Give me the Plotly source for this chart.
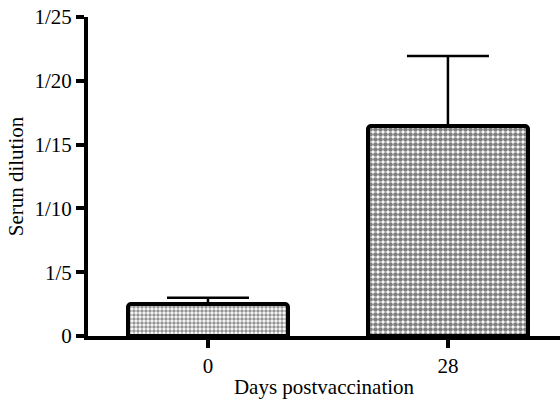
import plotly.graph_objects as go

categories = ["0", "28"]
means = [2.5, 16.45]
errors_up = [0.5, 5.5]
ytick_vals = [0, 5, 10, 15, 20, 25]
ytick_text = ["0", "1/5", "1/10", "1/15", "1/20", "1/25"]
pattern_fg = ["#2a2a2a", "#000000"]

xpos = list(range(len(categories)))

fig = go.Figure()
fig.add_trace(go.Bar(
    x=xpos, y=means, width=0.667,
    marker=dict(
        color="white",
        line=dict(color="black", width=4),
        pattern=dict(shape=".", fgcolor=pattern_fg, bgcolor="white", size=[4, 5], solidity=[0.6, 0.68]),
        cornerradius=3,
    ),
    error_y=dict(type="data", symmetric=False, array=errors_up, arrayminus=[0, 0],
                 color="black", thickness=2.5, width=41),
))

font = dict(family="Liberation Serif, Times New Roman, serif", size=21, color="black")
fig.update_layout(
    width=560, height=399,
    margin=dict(l=88, r=0, t=17, b=63),
    plot_bgcolor="white", paper_bgcolor="white",
    font=font, showlegend=False, bargap=0,
)
fig.update_xaxes(
    range=[-0.5, 1.467], tickvals=xpos, ticktext=categories,
    showline=True, linecolor="black", linewidth=4,
    ticks="outside", ticklen=8, tickwidth=4, tickcolor="black",
    showgrid=False, zeroline=False,
    title=dict(text="Days postvaccination", standoff=7, font=font),
)
fig.update_yaxes(
    range=[0, 25], tickvals=ytick_vals, ticktext=ytick_text,
    showline=True, linecolor="black", linewidth=4,
    ticks="outside", ticklen=8, tickwidth=4, tickcolor="black",
    showgrid=False, zeroline=False,
    title=dict(text="Serun dilution", standoff=6, font=font),
)
fig.write_html("out.html", config={"displayModeBar": False},
               post_script="document.body.style.margin='0';")
